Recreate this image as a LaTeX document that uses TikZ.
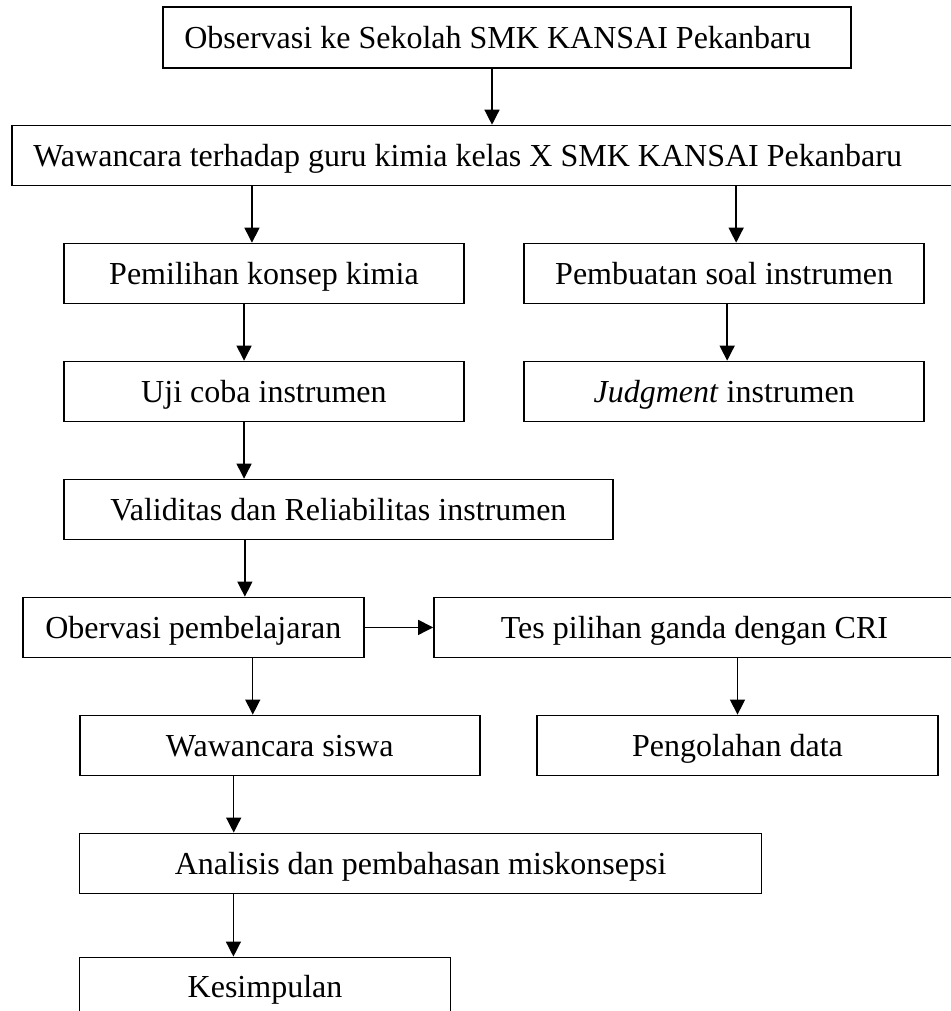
\documentclass[tikz,border=0pt]{standalone}
\usepackage{fontspec}
\setmainfont{Liberation Serif}
\usetikzlibrary{positioning, arrows.meta}
\tikzstyle{process} = [rectangle, minimum height=22pt, inner sep=0pt, text height=7.8pt, text depth=0pt, text centered, draw=black, line width=0.6pt]
\tikzstyle{leftprocess} = [rectangle, minimum height=22pt, inner xsep=7.8pt, inner ysep=0pt, text height=7.8pt, text depth=0pt, draw=black, line width=0.6pt]
\tikzstyle{arrow} = [->, >={Triangle[length=5.5pt, width=5.5pt]}, line width=0.5pt]

\begin{document}
\begin{tikzpicture}[x=0.367pt, y=-0.367pt, node distance=43.3pt, font=\fontsize{11.75pt}{14pt}\selectfont]
    \useasboundingbox (0,0) rectangle (951,1011);
    % kotak-kotak tahapan
    \node (obs) [leftprocess, minimum height=22.4pt] at (507,37.5) {\makebox[236.9pt][l]{Observasi ke Sekolah SMK KANSAI Pekanbaru}};
    \node (waw) [leftprocess, below of = obs, xshift = -8.6pt] {\makebox[330.5pt][l]{Wawancara terhadap guru kimia kelas X SMK KANSAI Pekanbaru}};
    \node (pil) [process, minimum width=146.8pt, below of = waw, xshift = -80.6pt] {Pemilihan konsep kimia};
    \node (pem) [process, minimum width=146.8pt, below of = waw, xshift = 88.3pt] {Pembuatan soal instrumen};
    \node (uji) [process, minimum width=146.8pt, below of = pil] {Uji coba instrumen};
    \node (jud) [process, minimum width=146.8pt, below of = pem] {\textit{Judgment} instrumen};
    \node (val) [process, minimum width=201.5pt, below of = uji, xshift = 27.3pt] {Validitas dan Reliabilitas instrumen};
    \node (obv) [process, minimum width=125.1pt, below of = val, xshift = -53.2pt] {Obervasi pembelajaran};
    \node (tes) [process, minimum width=191.2pt, below of = val, xshift = 130.7pt] {Tes pilihan ganda dengan CRI};
    \node (wsi) [process, minimum width=146.8pt, below of = obv, xshift = 31.7pt] {Wawancara siswa};
    \node (peng) [process, minimum width=147.2pt, below of = tes, xshift = 15.8pt] {Pengolahan data};
    \node (ana) [process, minimum width=250.3pt, below of = wsi, xshift = 51.7pt] {Analisis dan pembahasan miskonsepsi};
    \node (kes) [process, minimum width=136.2pt, below of = ana, xshift = -57.1pt, yshift = -2.2pt] {Kesimpulan};

    % panah penghubung
    \draw [arrow] ([xshift=-5.5pt]obs.south) -- ([xshift=-5.5pt]obs.south |- waw.north);
    \draw [arrow] ([xshift=-4.4pt]pil.north |- waw.south) -- ([xshift=-4.4pt]pil.north);
    \draw [arrow] ([xshift=4.4pt]pem.north |- waw.south) -- ([xshift=4.4pt]pem.north);
    \draw [arrow] ([xshift=-7.3pt]pil.south) -- ([xshift=-7.3pt]uji.north);
    \draw [arrow] ([xshift=1.1pt]pem.south) -- ([xshift=1.1pt]jud.north);
    \draw [arrow] ([xshift=-7.3pt]uji.south) -- ([xshift=-7.3pt]uji.south |- val.north);
    \draw [arrow] ([xshift=18.9pt]obv.north |- val.south) -- ([xshift=18.9pt]obv.north);
    \draw [arrow] (obv.east) -- (tes.west);
    \draw [arrow] ([xshift=-9.9pt]wsi.north |- obv.south) -- ([xshift=-9.9pt]wsi.north);
    \draw [arrow] (tes.south -| peng.north) -- (peng.north);
    \draw [arrow] ([xshift=-16.9pt]wsi.south) -- ([xshift=-16.9pt]wsi.south |- ana.north);
    \draw [arrow] ([xshift=-11.6pt]kes.north |- ana.south) -- ([xshift=-11.6pt]kes.north);
\end{tikzpicture}
\end{document}
